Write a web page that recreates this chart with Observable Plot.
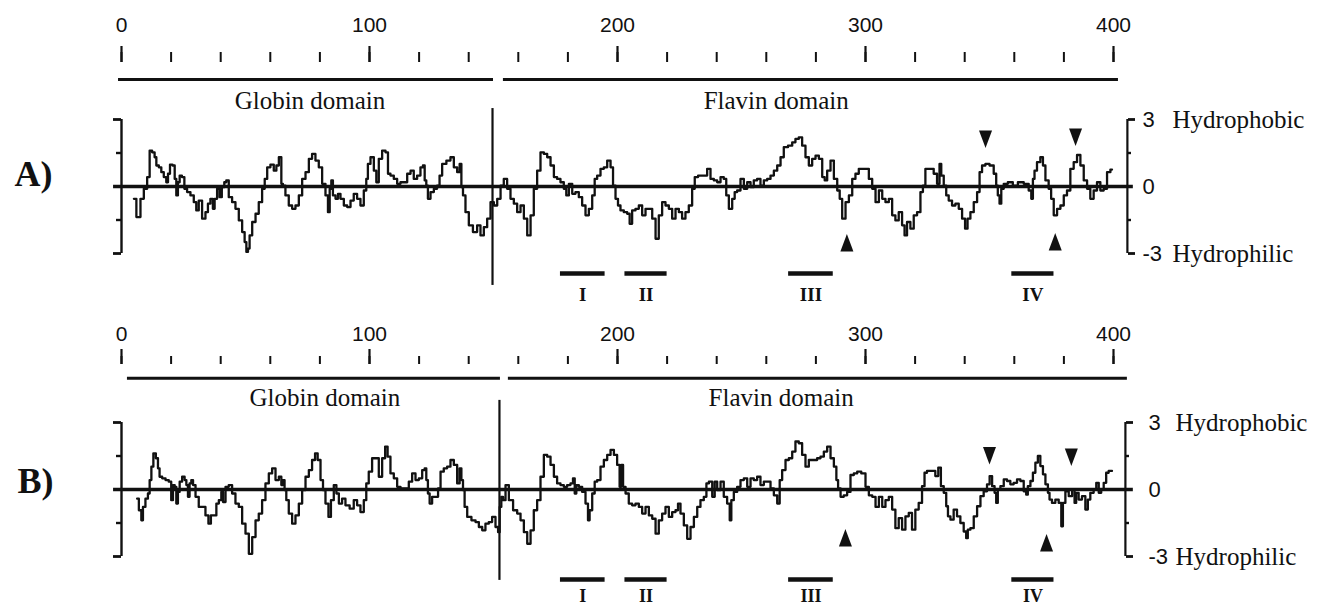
<!DOCTYPE html>
<html><head><meta charset="utf-8">
<script src="https://cdn.jsdelivr.net/npm/d3@7"></script>
<script src="https://cdn.jsdelivr.net/npm/@observablehq/plot@0.6"></script>
<style>
html,body{margin:0;padding:0;background:#fff;}
#chart{width:1320px;height:608px;overflow:hidden;background:#fff;}
#chart svg{display:block;}
</style></head><body><div id="chart"></div>
<script>
// ---------- data ----------
// hydropathy profile, panel A: [residue, hydropathy]
const profileA = [
[5.0,-0.55],[7.0,-1.37],[8.3,-0.55],[9.7,-0.10],[11.0,0.42],[11.7,1.61],[13.0,1.53],[13.7,1.31],[14.4,0.94],[15.7,0.86],[16.4,0.64],[17.7,0.42],[18.4,0.19],[19.1,0.57],[20.0,0.98],[21.1,0.94],[21.8,0.34],[22.4,-0.40],[23.1,0.19],[23.8,0.49],[24.9,0.42],[25.8,-0.10],[27.1,-0.25],[28.5,-0.40],[29.8,-0.70],[30.5,-1.07],[31.8,-0.63],[33.2,-1.44],[34.5,-1.15],[35.2,-0.77],[36.5,-0.55],[37.2,-1.00],[37.9,-0.55],[39.2,-0.10],[39.9,-0.48],[41.0,-0.03],[41.9,0.19],[42.6,0.27],[43.9,-0.48],[45.3,-0.70],[46.6,-1.00],[48.0,-1.52],[49.3,-2.04],[50.0,-2.49],[50.7,-2.93],[51.3,-2.78],[52.0,-2.19],[53.4,-1.59],[54.7,-1.22],[56.0,-0.70],[57.4,-0.10],[58.1,0.34],[59.4,0.86],[60.7,0.98],[62.1,0.71],[62.8,0.94],[64.1,1.31],[64.8,0.12],[65.4,0.04],[66.8,-0.40],[68.1,-0.85],[69.5,-1.00],[70.8,-0.85],[72.2,-0.40],[73.5,0.34],[74.9,0.64],[76.2,1.24],[77.5,1.46],[78.9,1.16],[80.2,0.86],[81.6,0.12],[82.9,-0.40],[83.6,-1.15],[84.3,-0.10],[84.9,0.27],[85.6,-0.40],[87.0,-0.55],[87.6,-0.33],[89.0,-0.55],[90.3,-0.85],[91.7,-0.92],[93.0,-0.63],[94.3,-0.33],[95.7,-0.55],[97.0,-0.85],[98.4,-0.18],[99.0,0.34],[99.7,1.01],[101.1,1.31],[102.4,0.71],[103.1,0.19],[104.4,1.24],[105.8,1.61],[107.1,1.53],[107.8,0.57],[109.1,0.49],[110.5,0.34],[111.8,0.12],[113.2,0.19],[114.5,0.19],[115.9,0.57],[117.2,0.71],[118.5,0.34],[119.9,0.49],[121.2,0.86],[121.9,0.94],[122.6,0.27],[123.2,0.04],[123.9,-0.55],[125.3,-0.25],[126.6,-0.10],[127.9,0.04],
[128.6,0.49],[130.0,1.01],[132.0,1.16],[133.3,1.31],[134.7,0.86],[136.0,0.64],[136.7,1.01],[137.4,-0.03],[138.0,-0.40],[139.4,-1.15],[140.7,-1.74],[142.7,-2.04],[144.1,-1.74],[145.4,-2.19],[146.8,-1.82],[148.1,-1.44],[149.5,-0.70],[150.8,-0.85],[152.2,-0.55],[153.5,0.04],[154.8,0.34],[156.2,-0.10],[157.5,-0.55],[158.9,-0.77],[160.2,-1.15],[161.6,-0.85],[162.9,-1.44],[164.3,-2.19],[165.6,-1.29],[166.9,-0.10],[168.3,0.71],[169.6,1.53],[171.0,1.46],[172.3,1.31],[173.7,0.94],[175.0,0.42],[176.3,0.34],[177.7,0.19],[179.0,-0.10],[179.7,-0.40],[181.1,0.12],[182.4,-0.33],[183.7,-0.25],[185.1,-0.48],[186.4,-0.85],[187.8,-1.29],[189.1,-1.00],[190.5,-0.40],[191.1,0.34],[192.5,0.49],[193.8,0.79],[195.2,0.86],[196.5,1.16],[197.9,0.86],[198.5,0.04],[199.9,-0.55],[200.5,-0.85],[201.9,-1.07],[203.2,-1.15],[204.6,-1.22],[205.2,-1.67],[206.6,-1.07],[207.9,-1.00],[209.3,-0.85],[210.6,-1.29],[212.0,-1.00],[213.3,-1.00],[214.7,-1.44],[216.0,-2.34],[217.3,-1.29],[218.7,-0.70],[220.0,-0.85],[221.4,-1.00],[222.7,-1.44],[224.1,-1.00],[225.4,-1.15],[226.7,-1.44],[228.1,-1.15],[229.4,-0.85],[230.8,-0.10],[231.5,0.42],[233.5,0.49],[235.5,0.49],[236.8,0.79],[238.2,0.34],[239.5,0.27],[240.9,0.19],[242.2,0.42],[243.5,0.34],[244.2,-0.40],[245.6,-1.00],[246.9,-0.55],[247.6,-0.25],[248.9,-0.18],[250.3,0.34],[251.6,-0.10],[253.0,0.19],[254.3,-0.03],[255.6,0.27],[257.0,0.34],[258.3,0.04],[259.7,0.27],[261.0,0.34],[262.4,0.49],[263.7,0.71],[265.1,0.94],[266.4,1.31],[267.7,1.76],[269.8,1.83],[271.1,1.98],[272.4,2.13],[273.8,2.20],[275.1,1.83],[276.5,1.31],[277.8,0.94],[279.2,1.24],[280.5,1.38],[281.9,1.24],[283.2,0.42],[283.9,0.27],[285.2,0.71],[286.6,1.16],[287.9,0.34],[289.3,-0.18],[289.9,-0.55],[291.3,-1.44],[292.6,-0.70],[294.0,-0.40],[295.3,0.34],[296.6,0.57],[298.0,0.79],[300.7,0.79],[302.0,0.34],[303.4,-0.10],[304.7,-0.70],[306.1,-0.18],[307.4,-0.55],[308.7,-0.70],[310.1,-0.55],
[311.4,-1.29],[312.7,-1.52],[314.1,-1.15],[315.4,-1.74],[316.1,-2.19],[317.4,-1.59],[318.8,-1.89],[320.1,-1.29],[321.5,-1.15],[322.8,-0.25],[323.5,0.04],[324.8,0.79],[326.8,0.79],[328.2,0.57],[329.5,0.12],[330.2,1.01],[330.9,0.49],[332.2,0.04],[332.9,-0.40],[334.2,-0.63],[335.6,-0.85],[336.9,-0.77],[338.3,-1.00],[339.6,-1.44],[340.7,-1.89],[341.6,-1.44],[343.0,-1.15],[344.3,-0.70],[345.7,-0.25],[346.3,0.64],[347.7,0.94],[349.0,1.01],[351.0,0.94],[352.4,0.57],[353.0,0.04],[353.7,-0.40],[354.4,-0.77],[355.1,-0.10],[356.4,0.12],[358.4,0.19],[360.4,0.04],[362.5,0.19],[365.1,0.12],[366.5,-0.18],[367.2,-0.55],[367.8,0.34],[368.5,0.71],[369.8,1.09],[371.2,1.31],[371.9,0.94],[373.2,0.27],[374.5,-0.10],[375.2,-0.55],[376.6,-1.29],[377.9,-1.00],[379.3,-0.85],[380.6,-0.40],[381.9,-0.18],[383.3,0.79],[384.6,1.09],[386.0,1.41],[387.3,0.94],[388.7,0.27],[390.0,-0.10],[391.3,-0.55],[392.7,-0.18],[394.0,0.19],[395.4,-0.18],[396.7,-0.10],[398.1,0.64],[399.4,0.76]
];
// hydropathy profile, panel B: [residue, hydropathy]
const profileB = [
[6.3,-0.41],[7.7,-0.93],[8.3,-1.38],[9.0,-0.78],[10.3,-0.41],[11.0,-0.18],[11.7,0.42],[12.4,1.02],[13.3,1.62],[14.4,1.40],[15.0,0.95],[15.7,0.57],[17.1,0.50],[18.4,0.42],[19.7,0.35],[20.4,-0.48],[21.1,0.20],[21.8,0.12],[22.4,-0.63],[23.1,-0.11],[23.8,0.35],[25.1,0.57],[25.8,0.42],[26.5,0.20],[27.1,-0.33],[27.8,0.27],[28.5,0.42],[29.2,0.20],[30.5,-0.33],[31.8,-0.78],[33.2,-0.78],[34.5,-1.16],[35.6,-1.53],[36.5,-1.16],[37.9,-1.16],[38.6,-0.63],[39.9,-0.48],[40.6,-0.11],[41.3,-0.56],[42.6,0.12],[43.9,0.20],[45.3,-0.18],[46.6,-0.63],[48.0,-0.78],[49.3,-1.53],[50.7,-1.98],[52.0,-2.88],[53.4,-2.13],[54.7,-1.38],[56.0,-1.08],[57.4,-0.48],[58.7,0.27],[60.1,0.72],[61.4,0.95],[62.8,0.42],[64.1,0.57],[64.8,0.20],[65.4,0.42],[66.1,-0.03],[66.8,-0.48],[68.1,-1.08],[69.5,-1.53],[70.8,-1.16],[72.2,-0.63],[73.5,-0.03],[74.9,0.57],[76.2,0.87],[77.5,1.32],[78.6,1.62],[79.6,1.32],[80.9,0.42],[81.6,-0.03],[82.9,-0.63],[84.0,-1.23],[84.9,-0.48],[86.3,0.20],[87.0,-0.18],[88.3,-0.63],[89.6,-0.41],[91.0,-0.71],[93.0,-0.86],[94.3,-0.48],[95.7,-0.71],[97.0,-1.01],[98.4,-0.48],[99.0,0.27],[100.4,0.80],[101.7,1.40],[103.1,1.40],[104.4,0.57],[105.8,1.40],[106.8,1.92],[107.8,1.47],[109.1,0.72],[110.5,0.50],[111.8,0.12],[113.2,0.05],[115.2,0.05],[116.5,0.35],[117.9,0.72],[119.2,0.42],[120.6,0.50],[121.9,0.87],[122.6,0.95],[123.2,0.42],[123.9,-0.18],[124.6,-0.63],[125.9,-0.33],
[127.3,-0.33],[128.0,0.05],[129.3,0.80],[130.6,0.95],[132.0,1.02],[133.3,1.32],[134.7,1.10],[136.0,0.27],[136.7,0.95],[137.4,0.42],[138.0,-0.03],[138.7,-0.78],[140.1,-1.23],[142.1,-1.38],[143.4,-1.46],[144.8,-1.68],[146.1,-1.83],[147.4,-1.53],[148.8,-1.46],[150.1,-1.23],[151.5,-1.68],[152.2,-1.91],[152.8,-0.78],[153.5,-0.33],[154.2,-0.48],[155.5,0.20],[156.9,-0.48],[158.9,-0.93],[160.2,-1.08],[161.6,-1.38],[162.9,-1.91],[164.3,-2.43],[165.6,-1.83],[166.9,-0.93],[168.3,-0.48],[169.6,0.57],[171.0,1.55],[172.3,1.47],[173.7,1.10],[175.0,0.57],[176.3,0.27],[177.7,0.20],[179.0,0.12],[180.4,0.20],[181.7,0.27],[182.4,0.50],[183.1,-0.18],[183.7,0.20],[185.1,0.12],[186.4,-0.11],[187.8,-0.63],[188.4,-1.38],[189.1,-0.93],[190.5,-0.18],[191.1,0.35],[192.5,0.42],[193.8,1.02],[195.2,1.32],[196.5,1.55],[197.9,1.77],[199.2,1.55],[200.5,1.10],[201.2,0.12],[201.9,1.10],[202.6,0.12],[203.9,-0.18],[205.2,-0.63],[206.6,-0.71],[207.9,-0.63],[209.3,-0.78],[210.6,-1.08],[212.0,-0.78],[213.3,-1.16],[214.7,-1.31],[216.0,-1.98],[217.3,-1.38],[218.7,-1.08],[220.0,-0.78],[221.4,-1.23],[222.7,-1.01],[224.1,-0.93],[224.7,-0.63],[226.1,-1.08],[227.4,-1.61],[228.8,-2.21],[230.1,-1.68],[231.5,-1.23],[232.8,-0.78],[234.1,-0.48],[235.5,-0.33],[236.2,0.27],[237.5,0.35],[238.9,-0.33],[239.5,0.35],[240.9,-0.03],[242.2,0.35],[243.5,-0.33],[244.9,-0.63],[245.6,-1.38],[246.2,-0.48],[247.6,-0.11],[248.9,0.12],[250.3,0.42],[251.6,0.50],[253.0,0.12],[254.3,0.50],[255.6,0.42],[257.0,0.57],[258.3,0.20],[259.7,0.35],[261.0,0.35],[262.4,0.05],[263.7,-0.26],[265.1,-0.63],[265.7,0.42],[267.1,0.87],[268.4,1.32],[269.8,1.40],[271.1,1.70],[272.4,2.15],[273.8,2.07],[275.1,1.55],[276.5,1.02],[277.8,1.32],[279.8,1.32],[281.2,1.40],[282.5,1.47],[283.9,1.70],[285.2,1.92],[286.6,1.40],[287.9,1.02],[288.6,0.42],[289.3,0.05],[290.6,-0.33],[291.9,-0.26],[293.3,-0.11],[294.6,0.65],[296.0,0.72],[297.3,0.80],[299.3,0.72],[300.7,0.12],[302.0,-0.26],[303.4,-0.33],[304.7,-0.78],[306.1,-0.33],[307.4,-0.78],[308.7,-0.48],[310.1,-0.33],
[311.4,-0.90],[312.7,-1.73],[314.1,-1.28],[315.4,-1.80],[316.8,-1.20],[318.1,-1.05],[319.4,-1.80],[320.8,-0.90],[322.1,-0.60],[323.5,0.15],[324.1,0.75],[325.5,0.83],[327.5,0.83],[328.8,0.60],[329.9,0.98],[330.9,0.15],[332.2,-0.15],[332.9,-0.75],[333.6,-1.20],[334.9,-1.35],[336.2,-0.90],[337.6,-1.20],[338.9,-1.50],[340.3,-1.88],[340.9,-2.18],[341.6,-1.80],[343.0,-1.73],[344.3,-1.20],[345.7,-0.75],[347.0,-0.30],[348.3,-0.08],[349.7,0.23],[350.4,0.60],[351.7,0.15],[352.4,-0.15],[353.0,-0.60],[353.7,0.00],[355.1,0.15],[356.4,0.45],[357.7,0.38],[359.1,0.23],[360.4,0.30],[361.8,0.45],[363.1,0.38],[364.5,-0.08],[365.1,-0.23],[365.8,0.15],[367.2,0.38],[367.8,0.75],[369.2,1.20],[369.8,1.50],[371.2,1.05],[371.9,0.68],[373.2,0.23],[373.9,-0.15],[374.5,-0.45],[375.9,-0.60],[377.2,-0.45],[378.6,-0.60],[379.3,-1.65],[379.9,-0.60],[381.3,-0.08],[382.6,-0.30],[384.0,0.00],[384.6,-0.60],[385.3,-0.15],[386.6,-0.45],[388.0,-0.30],[389.3,-0.90],[390.0,-0.45],[391.3,-0.15],[392.7,0.00],[393.4,0.30],[394.7,-0.15],[395.4,0.00],[396.7,0.30],[397.4,0.75],[398.7,0.83],[399.4,0.83]
];

const rulerMajorTicks = [0, 100, 200, 300, 400];
const rulerMinorTicks = [0,20,40,60,80,100,120,140,160,180,200,220,240,260,280,300,320,340,360,380,400];
const rightTickLabels = ["3", "0", "-3"];
const rightTickValues = [3, 0, -3];
const rightTickNames = ["Hydrophobic", "", "Hydrophilic"];

const domainNames = ["Globin domain", "Flavin domain"];
const domainStartA = [-1.2, 154], domainEndA = [150, 402], domainLabelAtA = [76, 264];
const domainStartB = [2.4, 156],  domainEndB = [152.8, 405.6], domainLabelAtB = [82, 266];

const motifNames = ["I", "II", "III", "IV"];
const motifStart = [177, 203, 269, 359];
const motifEnd   = [195, 220, 287, 376];

const arrowResA = [292.5, 376.5, 348.4, 384.7];
const arrowLevA = [-2.53, -2.49, 2.13, 2.22];
const arrowResB = [291.9, 373.0, 350.0, 383.0];
const arrowLevB = [-2.17, -2.40, 1.52, 1.46];
const arrowDir  = ["up", "up", "down", "down"];

// ---------- drawing ----------
const SANS = "'Liberation Sans', Arial, Helvetica, sans-serif";
const SERIF = "'Liberation Serif', 'Times New Roman', Times, serif";
const INK = "#111";

// tall, narrow arrowheads as in the figure
const upHead = {draw(c) { c.moveTo(0, -9); c.lineTo(6.5, 8.5); c.lineTo(-6.5, 8.5); c.closePath(); }};
const downHead = {draw(c) { c.moveTo(0, 9); c.lineTo(6.5, -8.5); c.lineTo(-6.5, -8.5); c.closePath(); }};

function panel(cfg) {
  const profile = cfg.profile.map(([r, v]) => ({r, v}));
  const domains = domainNames.map((name, i) => ({name, start: cfg.dStart[i], end: cfg.dEnd[i], at: cfg.dLabel[i]}));
  const motifs = motifNames.map((name, i) => ({name, start: motifStart[i], end: motifEnd[i], mid: (motifStart[i] + motifEnd[i]) / 2}));
  const arrows = cfg.arrowRes.map((r, i) => ({r, v: cfg.arrowLev[i], dir: arrowDir[i]}));
  const right = rightTickValues.map((v, i) => ({v, label: rightTickLabels[i], name: rightTickNames[i]}));

  return Plot.plot({
    width: 1320, height: 304,
    marginTop: cfg.rulerBase, marginLeft: 121, marginRight: cfg.marginRight, marginBottom: 0,
    x: {domain: [0, 400], range: [121, 1113]},
    y: {domain: [-3, 3], range: cfg.yRange},
    style: {background: "#fff", color: INK, overflow: "visible"},
    marks: [
      // ruler
      Plot.axisX({anchor: "top", ticks: rulerMinorTicks, tickSize: cfg.minorTick, tickFormat: () => "", strokeWidth: 2, label: null}),
      Plot.axisX({anchor: "top", ticks: rulerMajorTicks, tickSize: cfg.majorTick, tickPadding: cfg.tickPad, strokeWidth: 2.2,
                  fontSize: 21, fontFamily: SANS, label: null}),
      // domain lines and labels
      Plot.ruleY(domains, {y: cfg.domainLineY, x1: "start", x2: "end", strokeWidth: 3, stroke: INK}),
      Plot.text(domains, {x: "at", y: cfg.domainLabelY, text: "name", fontFamily: SERIF, fontSize: 25, fill: INK}),
      // left bracket axis
      Plot.ruleX([0], {y1: -3, y2: 3, strokeWidth: 2.4, stroke: INK}),
      Plot.axisY({anchor: "left", ticks: [-3, 3], tickSize: 8, tickFormat: () => "", strokeWidth: 2.8, label: null}),
      Plot.axisY({anchor: "left", ticks: [-1.5, 1.5], tickSize: 5, tickFormat: () => "", strokeWidth: 2.4, label: null}),
      // right bracket axis
      Plot.ruleX([cfg.rightAxisAt], {y1: -3, y2: 3, strokeWidth: 2.2, stroke: INK}),
      Plot.axisY({anchor: "right", ticks: [-3, 3], tickSize: 7, tickFormat: () => "", strokeWidth: 2.8, label: null}),
      Plot.axisY({anchor: "right", ticks: [-1.5, 1.5], tickSize: 3, tickFormat: () => "", strokeWidth: 2.4, label: null}),
      Plot.text(right, {y: "v", text: "label", frameAnchor: "right", dx: cfg.numDx, textAnchor: "start", fontFamily: SANS, fontSize: 22, fill: INK}),
      Plot.text(right, {y: "v", text: "name", frameAnchor: "right", dx: cfg.nameDx, textAnchor: "start", fontFamily: SERIF, fontSize: 25, fill: INK}),
      // zero line
      Plot.ruleY([0], {x1: -3.2, x2: cfg.zeroEnd, strokeWidth: 3.4, stroke: INK}),
      // globin / flavin divider
      Plot.ruleX([cfg.divider], {y1: cfg.dividerTop, y2: cfg.dividerBottom, strokeWidth: 2.2, stroke: INK}),
      // hydropathy profile
      Plot.line(profile, {x: "r", y: "v", curve: "step", stroke: INK, strokeWidth: 2.3}),
      // conserved motifs
      Plot.ruleY(motifs, {y: cfg.motifY, x1: "start", x2: "end", strokeWidth: 4.5, stroke: INK}),
      Plot.text(motifs, {x: "mid", y: cfg.motifY, dy: cfg.motifDy, text: "name", fontFamily: SERIF, fontWeight: "bold", fontSize: cfg.motifFont, fill: INK}),
      // arrowheads
      Plot.dot(arrows.filter(d => d.dir === "up"), {x: "r", y: "v", symbol: upHead, fill: INK, stroke: null, r: 6}),
      Plot.dot(arrows.filter(d => d.dir === "down"), {x: "r", y: "v", symbol: downHead, fill: INK, stroke: null, r: 6}),
      // panel letter
      Plot.text([cfg.letter], {y: cfg.letterY, frameAnchor: "left", dx: cfg.letterDx, text: d => d, textAnchor: "middle",
                 fontFamily: SERIF, fontWeight: "bold", fontSize: 36, fill: INK})
    ]
  });
}

const chart = document.getElementById("chart");
chart.append(panel({
  profile: profileA, letter: "A)", letterY: 0.54, letterDx: -88,
  rulerBase: 61, majorTick: 16, minorTick: 10, tickPad: 14,
  yRange: [253, 119], marginRight: 193, rightAxisAt: 405.6, numDx: 15, nameDx: 45, zeroEnd: 408,
  dStart: domainStartA, dEnd: domainEndA, dLabel: domainLabelAtA, domainLineY: 4.79, domainLabelY: 3.85,
  divider: 149.6, dividerTop: 3.49, dividerBottom: -4.43, motifY: -3.9, motifDy: 21, motifFont: 19,
  arrowRes: arrowResA, arrowLev: arrowLevA
}));
chart.append(panel({
  profile: profileB, letter: "B)", letterY: 0.36, letterDx: -86,
  rulerBase: 59, majorTick: 15, minorTick: 8, tickPad: 8,
  yRange: [252, 118], marginRight: 195, rightAxisAt: 404.8, numDx: 23, nameDx: 50, zeroEnd: 408,
  dStart: domainStartB, dEnd: domainEndB, dLabel: domainLabelAtB, domainLineY: 4.98, domainLabelY: 4.1,
  divider: 152.4, dividerTop: 3.99, dividerBottom: -4.07, motifY: -4.03, motifDy: 17, motifFont: 18,
  arrowRes: arrowResB, arrowLev: arrowLevB
}));
</script></body></html>
